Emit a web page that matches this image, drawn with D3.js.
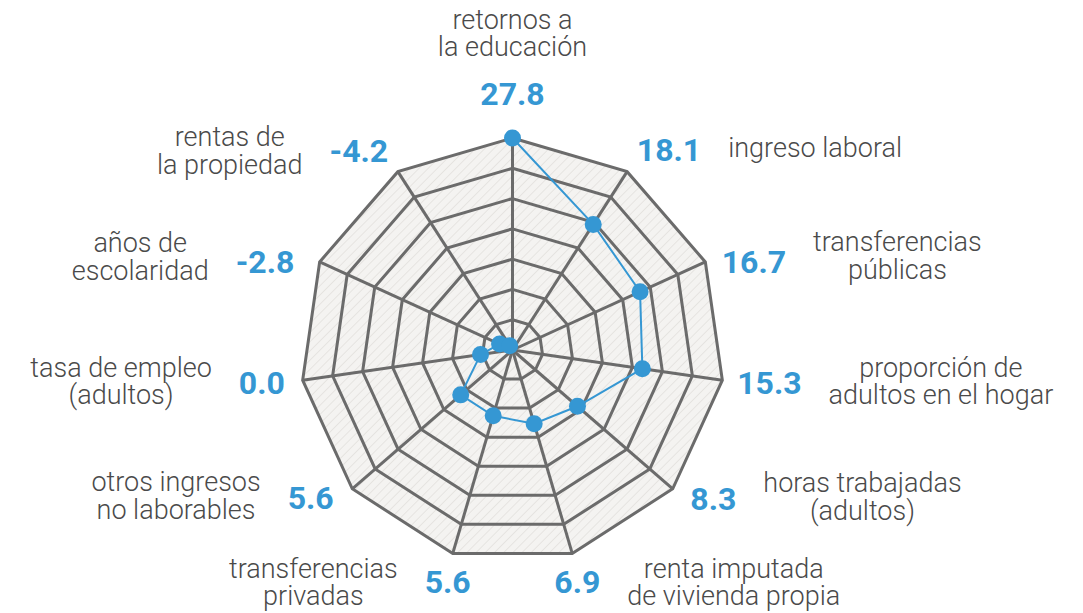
<!DOCTYPE html>
<html><head><meta charset="utf-8">
<script src="https://cdn.jsdelivr.net/npm/d3@7"></script>
<style>
html,body{margin:0;padding:0;background:#fff;}
svg{display:block;}
</style></head><body>
<svg id="chart" width="1083" height="613"></svg>
<script>
// ---- data ----
const categories = [
  ["retornos a", "la educación"],
  ["ingreso laboral"],
  ["transferencias", "públicas"],
  ["proporción de", "adultos en el hogar"],
  ["horas trabajadas", "(adultos)"],
  ["renta imputada", "de vivienda propia"],
  ["transferencias", "privadas"],
  ["otros ingresos", "no laborables"],
  ["tasa de empleo", "(adultos)"],
  ["años de", "escolaridad"],
  ["rentas de", "la propiedad"]
];
const values = [27.8, 18.1, 16.7, 15.3, 8.3, 6.9, 5.6, 5.6, 0.0, -2.8, -4.2];
const valueLabels = ["27.8", "18.1", "16.7", "15.3", "8.3", "6.9", "5.6", "5.6", "0.0", "-2.8", "-4.2"];
const scaleDomain = [-5, 27.8];
const ringCount = 7;

// ---- layout constants ----
const W = 1083, H = 613;
const cx = 512.5, cy = 350, R = 212;
const blue = "#3597d3";
const gridColor = "#6b6b6b";
// small per-axis label nudges [dx, dy] (value label) and category block dy
const labelNudge = [[0,-1],[0,-7],[0,8],[-3,0],[4,-2],[0,0],[0,0],[-5,-3],[0,0],[-9,8],[0,-6]];
const catNudge = [0,0,-5,0,0,2,2,0,0,-4,2];

const svg = d3.select("#chart");
const n = categories.length;
const angle = d3.scaleLinear().domain([0, n]).range([0, 2 * Math.PI]);
const r = d3.scaleLinear().domain(scaleDomain).range([0, R]);
const ringR = d3.scaleLinear().domain([0, ringCount]).range([0, R]);

const defs = svg.append("defs");
const pat = defs.append("pattern").attr("id", "hatch")
  .attr("patternUnits", "userSpaceOnUse").attr("width", 6.5).attr("height", 6.5)
  .attr("patternTransform", "rotate(45)");
pat.append("rect").attr("width", 6.5).attr("height", 6.5).attr("fill", "#f4f3f1");
pat.append("line").attr("x1", 0).attr("y1", 0).attr("x2", 0).attr("y2", 6.5)
  .attr("stroke", "#dfddd9").attr("stroke-width", 1.3);

const g = svg.append("g").attr("transform", `translate(${cx},${cy})`);
const idx = d3.range(n);

const ringLine = k => d3.lineRadial()
  .angle(i => angle(i)).radius(() => ringR(k)).curve(d3.curveLinearClosed);

// background fill
g.append("path").attr("d", ringLine(ringCount)(idx)).attr("fill", "url(#hatch)");

// spokes
g.selectAll("line.spoke").data(idx).join("line").attr("class", "spoke")
  .attr("x1", 0).attr("y1", 0)
  .attr("x2", i => ringR(ringCount) * Math.sin(angle(i)))
  .attr("y2", i => -ringR(ringCount) * Math.cos(angle(i)))
  .attr("stroke", gridColor).attr("stroke-width", 3);

// rings
g.selectAll("path.ring").data(d3.range(1, ringCount + 1)).join("path").attr("class", "ring")
  .attr("d", k => ringLine(k)(idx))
  .attr("fill", "none").attr("stroke", gridColor).attr("stroke-width", 3)
  .attr("stroke-linejoin", "miter");

// data line
const dataLine = d3.lineRadial().angle((d, i) => angle(i)).radius(d => r(d));
g.append("path").attr("d", dataLine(values))
  .attr("fill", "none").attr("stroke", blue).attr("stroke-width", 2);

g.selectAll("circle.pt").data(values).join("circle").attr("class", "pt")
  .attr("cx", (d, i) => r(d) * Math.sin(angle(i)))
  .attr("cy", (d, i) => -r(d) * Math.cos(angle(i)))
  .attr("r", 8.5).attr("fill", blue);

// labels
const labelR = 230, gap = 27, lineH = 27.5;
const valSize = 32, catSize = 27;
const lg = svg.append("g");
values.forEach((v, i) => {
  const a = angle(i), s = Math.sin(a), c = Math.cos(a);
  const ax = cx + labelR * s + labelNudge[i][0];
  const ay = cy - labelR * c + labelNudge[i][1];
  const anchor = Math.abs(s) < 0.35 ? "middle" : (s > 0 ? "start" : "end");
  let base;
  if (anchor === "middle") base = c > 0 ? ay - 14 : ay + 22;
  else base = ay + 11;
  const t = lg.append("text").attr("x", ax).attr("y", base)
    .attr("text-anchor", anchor)
    .attr("font-family", "Roboto, sans-serif").attr("font-weight", 700)
    .attr("font-size", valSize).attr("fill", blue).text(valueLabels[i]);
  const w = t.node().getComputedTextLength();
  const left = anchor === "start" ? ax : anchor === "end" ? ax - w : ax - w / 2;
  const right = left + w;
  const vc = base - 11.4;

  const lines = categories[i];
  const spans = lines.map(l => lg.append("text").attr("text-anchor", "middle")
    .attr("font-family", "Roboto, sans-serif").attr("font-weight", 300)
    .attr("font-size", catSize).attr("fill", "#4a4a4a").text(l));
  const maxW = d3.max(spans, sp => sp.node().getComputedTextLength());
  let bx, firstBase;
  if (anchor === "middle" && c > 0) {
    bx = ax;
    const lastBase = base - 49;
    firstBase = lastBase - (lines.length - 1) * lineH;
  } else {
    const side = s > 0 ? 1 : -1;
    bx = side > 0 ? right + gap + maxW / 2 : left - gap - maxW / 2;
    firstBase = vc + 8 - (lines.length - 1) * lineH / 2 + catNudge[i];
  }
  spans.forEach((sp, j) => sp.attr("x", bx).attr("y", firstBase + j * lineH));
});
</script>
</body></html>
